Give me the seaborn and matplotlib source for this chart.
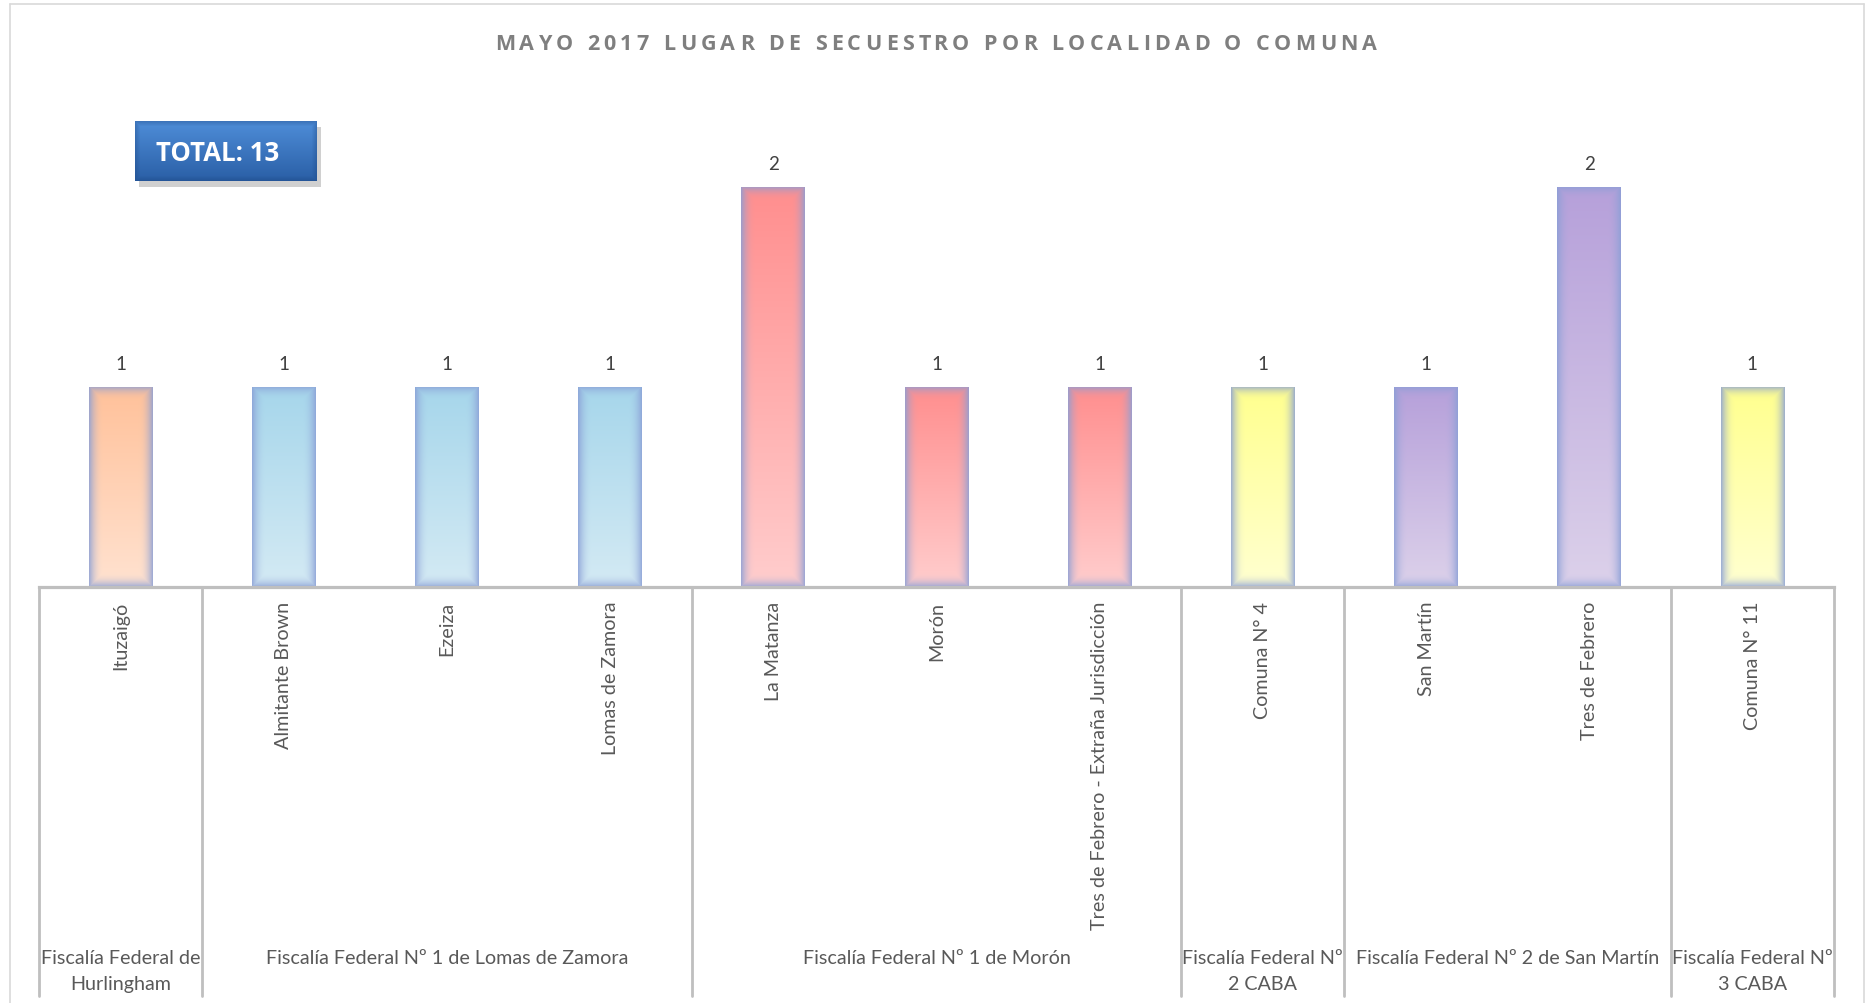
import numpy as np
import pandas as pd
import matplotlib
matplotlib.use("Agg")
import matplotlib.pyplot as plt
import seaborn as sns
from matplotlib.colors import to_rgb
from matplotlib.patches import Rectangle
from matplotlib.lines import Line2D

# ---------------- data ----------------
categories = ["Ituzaigó", "Almitante Brown", "Ezeiza", "Lomas de Zamora",
              "La Matanza", "Morón", "Tres de Febrero - Extraña Jurisdicción",
              "Comuna N° 4", "San Martín", "Tres de Febrero", "Comuna N° 11"]
values = [1, 1, 1, 1, 2, 1, 1, 1, 1, 2, 1]
groups = ["Fiscalía Federal de\nHurlingham",
          "Fiscalía Federal Nº 1 de Lomas de Zamora",
          "Fiscalía Federal Nº 1 de Morón",
          "Fiscalía Federal Nº\n2 CABA",
          "Fiscalía Federal Nº 2 de San Martín",
          "Fiscalía Federal Nº\n3 CABA"]
group_sizes = [1, 3, 3, 1, 2, 1]
title = "MAYO 2017 LUGAR DE SECUESTRO POR LOCALIDAD O COMUNA"
total_label = "TOTAL: 13"

# colours (top, bottom of gradient) per category
peach = ("#FFC19A", "#FFE2D0")
blue = ("#A6D6EB", "#D4EAF4")
red = ("#FF8E8E", "#FFCDCD")
yellow = ("#FFFF8E", "#FFFFD0")
purple = ("#B6A0DA", "#DCD1EA")
bar_colors = [peach, blue, blue, blue, red, red, red, yellow, purple, purple, yellow]
edge_color = "#8A9FD6"

# ---------------- figure ----------------
W, H = 1870, 1004
sns.set_theme(style="white")
plt.rcParams["font.family"] = ["Lato", "DejaVu Sans"]
fig = plt.figure(figsize=(W / 100, H / 100), dpi=100)
fig.patch.set_facecolor("white")

def fx(px):
    return px / W

def fy(py):
    return 1 - py / H

base_y = 588
top_y = 88
ax = fig.add_axes([fx(39), fy(base_y), fx(1834) - fx(39), (base_y - top_y) / H])
ax.set_facecolor("none")

df = pd.DataFrame({"cat": categories, "val": values})
mid_colors = [tuple((np.array(to_rgb(a)) + np.array(to_rgb(b))) / 2) for a, b in bar_colors]
sns.barplot(data=df, x="cat", y="val", hue="cat", palette=mid_colors,
            width=0.39, legend=False, errorbar=None, saturation=1, ax=ax)

ymax = 2.5
px_per_unit = (base_y - top_y) / ymax

# gradient overlay on each bar
bars = [p for p in ax.patches if p.get_height() > 0]
bars.sort(key=lambda p: p.get_x())
edge = np.array(to_rgb(edge_color))
for p, (ctop, cbot) in zip(bars, bar_colors):
    x0, w, h = p.get_x(), p.get_width(), p.get_height()
    nx = 64
    ny = max(int(h * px_per_unit), 10)
    t = np.linspace(0, 1, ny)[:, None, None]
    img = np.array(to_rgb(ctop))[None, None, :] * (1 - t) + np.array(to_rgb(cbot))[None, None, :] * t
    img = np.repeat(img, nx, axis=1)
    xs = np.arange(nx)
    ys = np.arange(ny)
    dx = np.minimum(xs, nx - 1 - xs)[None, :]
    dy = np.minimum(ys, ny - 1 - ys)[:, None]
    d = np.minimum(dx, dy).astype(float)
    wgt = (np.clip(1 - d / 14.0, 0, 1) ** 2.2) * 0.8
    img = img * (1 - wgt[:, :, None]) + edge[None, None, :] * wgt[:, :, None]
    im = ax.imshow(img, extent=(x0, x0 + w, 0, h), aspect="auto",
                   interpolation="bilinear", zorder=p.get_zorder() + 0.5)
    im.set_clip_path(p)
    p.set_edgecolor("none")

ax.set_xlim(-0.5, len(categories) - 0.5)
ax.set_ylim(0, ymax)
ax.set_yticks([])
ax.set_xlabel("")
ax.set_ylabel("")
for s in ["left", "right", "top"]:
    ax.spines[s].set_visible(False)
ax.spines["bottom"].set_color("#BFBFBF")
ax.spines["bottom"].set_linewidth(2.3)
ax.spines["bottom"].set_zorder(10)

ax.set_xticks(range(len(categories)))
ax.set_xticklabels(categories, rotation=90, fontsize=14.2, color="#595959")
ax.tick_params(axis="x", length=0, pad=10)

for cont in ax.containers:
    ax.bar_label(cont, padding=11, fontsize=13.5, color="#404040")

# group separators and labels
xt = ax.get_xaxis_transform()
sep_bottom = (base_y - 997) / (base_y - top_y)
bounds = np.concatenate([[0], np.cumsum(group_sizes)]) - 0.5
for b in bounds:
    ax.add_line(Line2D([b, b], [0, sep_bottom], transform=xt, color="#BFBFBF",
                       lw=2.0, clip_on=False, zorder=5))
lab_y = (base_y - 950) / (base_y - top_y)
for g, a, b in zip(groups, bounds[:-1], bounds[1:]):
    ax.text((a + b) / 2, lab_y, g, transform=xt, ha="center", va="top",
            fontsize=14.2, color="#595959", linespacing=1.65, multialignment="center")

# outer chart border
for xs_, ys_ in [([10, 10], [5, H + 5]), ([10, 1864], [5, 5]), ([1864, 1864], [5, H + 5])]:
    fig.add_artist(Line2D([fx(v) for v in xs_], [fy(v) for v in ys_],
                          transform=fig.transFigure, color="#D9D9D9", lw=1.2))

# title with letter spacing
fig.canvas.draw()
renderer = fig.canvas.get_renderer()
tprops = dict(fontsize=15.5, fontweight="bold", color="#7F7F7F",
              family=["Open Sans", "DejaVu Sans"])
ref = fig.text(0, 0, "aa", **tprops)
w_aa = ref.get_window_extent(renderer).width
ref.remove()
widths = []
for ch in title:
    tt = fig.text(0, 0, "a" + ch + "a", **tprops)
    widths.append(tt.get_window_extent(renderer).width - w_aa)
    tt.remove()
target = 882.0
extra = (target - sum(widths)) / (len(title) - 1)
xpos = 936 - target / 2
for ch, wch in zip(title, widths):
    if ch != " ":
        fig.text(fx(xpos), fy(44), ch, ha="left", va="center", **tprops)
    xpos += wch + extra

# TOTAL box
bx0, by0, bx1, by1 = 135, 122, 317, 182
fig.add_artist(Rectangle((fx(bx0 + 4), fy(by1 + 6)), fx(bx1 - bx0), (by1 - by0) / H,
                         transform=fig.transFigure, facecolor="#7A7A7A", alpha=0.35,
                         edgecolor="none", zorder=1))
bax = fig.add_axes([fx(bx0), fy(by1), fx(bx1 - bx0), (by1 - by0) / H], zorder=3)
gy = np.linspace(0, 1, 60)[:, None, None]
gimg = np.array(to_rgb("#4E8DD8"))[None, None, :] * (1 - gy) + np.array(to_rgb("#2A5FA6"))[None, None, :] * gy
gimg = np.repeat(gimg, 180, axis=1)
gx = np.arange(180)
gyy = np.arange(60)
dd = np.minimum(np.minimum(gx, 179 - gx)[None, :], np.minimum(gyy, 59 - gyy)[:, None]).astype(float)
gw = np.clip(1 - dd / 5.0, 0, 1) * 0.35
gimg = gimg * (1 - gw[:, :, None]) + np.array(to_rgb("#1B4580"))[None, None, :] * gw[:, :, None]
bax.imshow(gimg, extent=(0, 1, 0, 1), aspect="auto", interpolation="bilinear")
bax.set_xlim(0, 1)
bax.set_ylim(0, 1)
bax.axis("off")
bax.text(0.455, 0.47, total_label, ha="center", va="center", fontsize=18.5,
         fontweight="bold", color="white", family=["Open Sans", "DejaVu Sans"])

fig.savefig("out.png", dpi=100, facecolor="white")
